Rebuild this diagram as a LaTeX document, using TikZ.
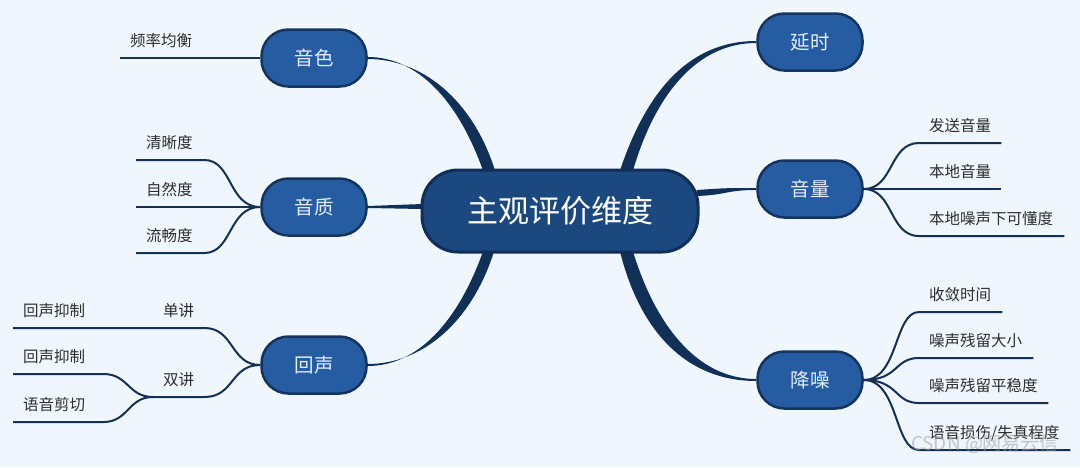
\documentclass[tikz,border=0pt]{standalone}
\usepackage{fontspec}
\setmainfont{Noto Sans CJK SC}
\usetikzlibrary{calc,backgrounds}

\definecolor{bgblue}{RGB}{239,246,253}
\definecolor{hubfill}{RGB}{28,72,128}
\definecolor{hubline}{RGB}{16,46,88}
\definecolor{topicfill}{RGB}{38,93,162}
\definecolor{topicline}{RGB}{20,52,96}
\definecolor{topictext}{RGB}{226,238,252}
\definecolor{trunkcol}{RGB}{17,48,88}
\definecolor{twigcol}{RGB}{22,48,84}
\definecolor{leaftext}{RGB}{45,45,45}

\begin{document}
\begin{tikzpicture}[
    x=1pt,
    y=-1pt,
    hub/.style={draw=hubline, line width=3pt, fill=hubfill, rounded corners=36pt, minimum width=276pt, minimum height=82pt, text=white, font=\fontsize{31}{36}\selectfont},
    topic/.style={draw=topicline, line width=2.5pt, fill=topicfill, rounded corners=27pt, minimum width=105pt, minimum height=57pt, text=topictext, font=\fontsize{19.5}{24}\selectfont},
    leaf/.style={anchor=south west, inner xsep=10pt, inner ysep=8pt, text height=12pt, text depth=3pt, text width=#1, align=left, text=leaftext, font=\fontsize{15.5}{18}\selectfont},
    trunk/.style={fill=trunkcol},
    twig/.style={draw=twigcol, line width=2pt}
]
\useasboundingbox (0,0) rectangle (1080,467);

% centre and the six topics
\node[hub] (main) at (560,211) {主观评价维度};
\node[topic] (tone) at (314,58) {音色};
\node[topic] (delay) at (810,42) {延时};
\node[topic] (vol) at (810,189) {音量};
\node[topic] (qual) at (314,207) {音质};
\node[topic] (echo) at (314,365) {回声};
\node[topic] (denoise) at (810,380) {降噪};

% left leaves
\node[leaf=100pt] (freq) at (120,58) {频率均衡};
\node[leaf=48pt] (clear) at (136,160) {清晰度};
\node[leaf=48pt] (natural) at (136,207) {自然度};
\node[leaf=48pt] (fluent) at (136,253) {流畅度};
\node[leaf=120pt] (suppA) at (13,328) {回声抑制};
\node[leaf=31pt] (single) at (153,328) {单讲};
\node[leaf=70pt] (suppB) at (13,374) {回声抑制};
\node[leaf=31pt] (double) at (153,397) {双讲};
\node[leaf=70pt] (cut) at (13,422) {语音剪切};

% right leaves
\node[leaf=62pt] (send) at (919,143) {发送音量};
\node[leaf=62pt] (local) at (919,189) {本地音量};
\node[leaf=125pt] (intel) at (919,236) {本地噪声下可懂度};
\node[leaf=63pt] (conv) at (919,312) {收敛时间};
\node[leaf=94pt] (resid) at (919,358) {噪声残留大小};
\node[leaf=109pt] (steady) at (919,403) {噪声残留平稳度};
\node[leaf=131pt] (damage) at (919,450) {语音损伤/失真程度};

\node[text=gray!75, opacity=.55, font=\fontsize{19}{22}\selectfont] (mark) at (985,444) {CSDN @网易云信};

\begin{scope}[on background layer]
\fill[bgblue] (0,0) rectangle (1080,467);

% tapered trunks
\fill[trunk] ($(main.north)+(-77,2)$) .. controls +(-25,-70) and +(50,0) .. ($(tone.east)+(0,-1)$)
    -- ($(tone.east)+(0,1)$) .. controls +(55,0) and +(-22,-70) .. ($(main.north)+(-65,2)$) -- cycle;
\fill[trunk] ($(main.north)+(73,2)$) .. controls +(22,-75) and +(-60,0) .. ($(delay.west)+(0,1)$)
    -- ($(delay.west)+(0,-1)$) .. controls +(-70,0) and +(25,-75) .. ($(main.north)+(60,2)$) -- cycle;
\fill[trunk] ($(main.east)+(-3,-21)$) .. controls +(30,-2) and +(-30,0) .. ($(vol.west)+(0,-1)$)
    -- ($(vol.west)+(0,1)$) .. controls +(-30,0) and +(30,-1) .. ($(main.east)+(-3,-15)$) -- cycle;
\fill[trunk] ($(main.west)+(2,-7)$) -- ($(qual.east)+(0,-1)$) -- ($(qual.east)+(0,1)$) -- ($(main.west)+(2,-2)$) -- cycle;
\fill[trunk] ($(main.south)+(-77,-2)$) .. controls +(-25,70) and +(50,0) .. ($(echo.east)+(0,1)$)
    -- ($(echo.east)+(0,-1)$) .. controls +(55,0) and +(-22,70) .. ($(main.south)+(-66,-2)$) -- cycle;
\fill[trunk] ($(main.south)+(60,-2)$) .. controls +(20,80) and +(-70,0) .. ($(denoise.west)+(0,1)$)
    -- ($(denoise.west)+(0,-1)$) .. controls +(-60,0) and +(22,72) .. ($(main.south)+(73,-2)$) -- cycle;

% twigs
\draw[twig] (freq.south west) -- (tone.west);
\draw[twig] (clear.south west) -- (clear.south east) .. controls +(28,0) and +(-32,0) .. (qual.west);
\draw[twig] (natural.south west) -- (qual.west);
\draw[twig] (fluent.south west) -- (fluent.south east) .. controls +(28,0) and +(-32,0) .. (qual.west);
\draw[twig] (suppA.south west) -- (single.south east) .. controls +(30,0) and +(-30,0) .. (echo.west);
\draw[twig] (double.south west) -- (double.south east) .. controls +(30,0) and +(-30,0) .. (echo.west);
\draw[twig] (suppB.south west) -- (suppB.south east) .. controls +(25,0) and +(-25,0) .. (double.south west);
\draw[twig] (cut.south west) -- (cut.south east) .. controls +(25,0) and +(-25,0) .. (double.south west);

\draw[twig] (vol.east) .. controls +(30,0) and +(-30,0) .. (send.south west) -- (send.south east);
\draw[twig] (vol.east) -- (local.south east);
\draw[twig] (vol.east) .. controls +(30,0) and +(-30,0) .. (intel.south west) -- (intel.south east);
\draw[twig] (denoise.east) .. controls +(35,0) and +(-25,0) .. (conv.south west) -- (conv.south east);
\draw[twig] (denoise.east) .. controls +(35,0) and +(-25,0) .. (resid.south west) -- (resid.south east);
\draw[twig] (denoise.east) .. controls +(35,0) and +(-25,0) .. (steady.south west) -- (steady.south east);
\draw[twig] (denoise.east) .. controls +(35,0) and +(-25,0) .. (damage.south west) -- (damage.south east);
\end{scope}
\end{tikzpicture}
\end{document}
